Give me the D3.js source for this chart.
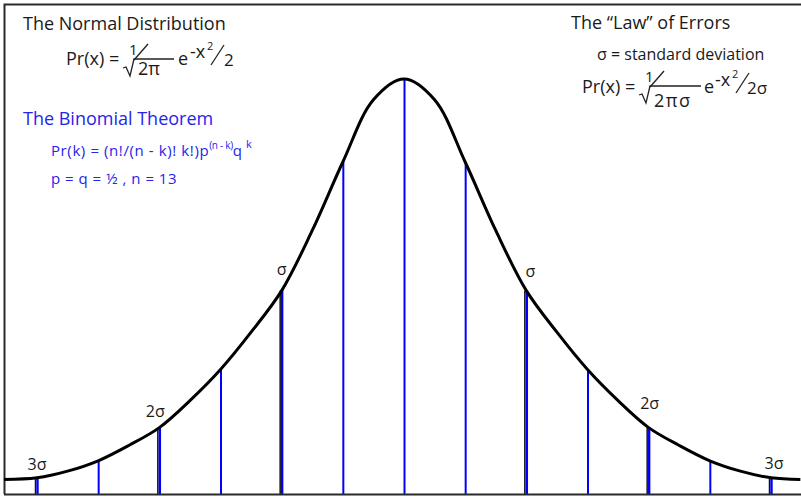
<!DOCTYPE html>
<html>
<head>
<meta charset="utf-8">
<script src="https://cdn.jsdelivr.net/npm/d3@7"></script>
<style>
  body { margin: 0; background: #fff; }
  svg { display: block; }
  text { font-family: "Open Sans", sans-serif; fill: #1a1a1a; }
</style>
</head>
<body>
<div id="chart"></div>
<script>
// binomial terms k = -6..6 (n = 13 centred), heights relative to the peak
const ks = [-6, -5, -4, -3, -2, -1, 0, 1, 2, 3, 4, 5, 6];
const heights = [0.039, 0.08, 0.16, 0.30, 0.49, 0.80, 1, 0.80, 0.49, 0.30, 0.16, 0.08, 0.039];
// the drawn bell curve, read at half steps (plus where it leaves the frame)
const curve_ks = [-6.54, -6, -5.5, -5, -4.5, -4, -3.5, -3, -2.5, -2, -1.5, -1, -0.5, 0,
                  0.5, 1, 1.5, 2, 2.5, 3, 3.5, 4, 4.5, 5, 5.5, 6, 6.48];
const curve_vals = [0.035, 0.039, 0.055, 0.08, 0.117, 0.16, 0.225, 0.30, 0.39, 0.49, 0.635, 0.80, 0.95, 1,
                    0.95, 0.80, 0.635, 0.49, 0.39, 0.30, 0.225, 0.16, 0.117, 0.08, 0.055, 0.039, 0.035];
// sigma marks
const sigma_ks = [-6, -4, -2, 2, 4, 6];
const sigma_names = ["3σ", "2σ", "σ", "σ", "2σ", "3σ"];

const W = 801, H = 497;
const base_y = 494;
// label nudges (dx, lift above the curve) for the sigma marks
const label_dx = [0, -4, 0, 4, 1, 3];
const label_lift = [8, 11, 16, 14, 19, 9];

const svg = d3.select("#chart").append("svg")
    .attr("width", W)
    .attr("height", H);

const x = d3.scaleLinear().domain([-6, 6]).range([37, 771]);
const y = d3.scaleLinear().domain([0, 1]).range([base_y, 79]);

// frame
svg.append("path")
    .attr("d", `M4.5,${base_y}V4.5H${W}`)
    .attr("fill", "none")
    .attr("stroke", "#2a2a2a")
    .attr("stroke-width", 2);

// vertical bars
const bars = ks.map((k, i) => ({k, v: heights[i]}));
svg.append("g")
  .selectAll("line")
  .data(bars.filter(d => sigma_ks.includes(d.k)))
  .join("line")
    .attr("x1", d => x(d.k) - 1.5)
    .attr("x2", d => x(d.k) - 1.5)
    .attr("y1", base_y)
    .attr("y2", d => y(d.v))
    .attr("stroke", "#111")
    .attr("stroke-width", 1.5);
svg.append("g")
  .selectAll("line")
  .data(bars)
  .join("line")
    .attr("x1", d => x(d.k) + 0.5)
    .attr("x2", d => x(d.k) + 0.5)
    .attr("y1", base_y)
    .attr("y2", d => y(d.v))
    .attr("stroke", "#0000ff")
    .attr("stroke-width", d => sigma_ks.includes(d.k) ? 2.4 : 2);

// the normal curve
const pts = curve_ks.map((k, i) => [k, curve_vals[i]]);
svg.append("path")
    .datum(pts)
    .attr("d", d3.line().x(d => x(d[0])).y(d => y(d[1])).curve(d3.curveCatmullRom.alpha(0.5)))
    .attr("fill", "none")
    .attr("stroke", "#000")
    .attr("stroke-width", 3);

// baseline
svg.append("line")
    .attr("x1", 4).attr("x2", W)
    .attr("y1", base_y + 0.5).attr("y2", base_y + 0.5)
    .attr("stroke", "#2a2a2a")
    .attr("stroke-width", 2);

// sigma labels
svg.append("g")
  .selectAll("text")
  .data(sigma_ks.map((k, i) => ({k, i, name: sigma_names[i], v: heights[ks.indexOf(k)]})))
  .join("text")
    .attr("x", d => x(d.k) + label_dx[d.i])
    .attr("y", d => y(d.v) - label_lift[d.i])
    .attr("text-anchor", "middle")
    .attr("font-size", 16)
    .text(d => d.name);

// helpers for the hand-set formulas
function txt(g, s, px, py, size, extra) {
  const t = g.append("text").attr("x", px).attr("y", py).attr("font-size", size).text(s);
  if (extra) extra(t);
  return t;
}
function stroke(g, d, w = 1.3) {
  g.append("path").attr("d", d).attr("fill", "none").attr("stroke", "#222").attr("stroke-width", w);
}

// left block: normal distribution
const left = svg.append("g");
txt(left, "The Normal Distribution", 23, 30, 18);
txt(left, "Pr(x) =", 66, 65, 18);
txt(left, "1", 129, 55, 15);
stroke(left, "M134,60L148,44");
stroke(left, "M123,68L126,67L130,76L134,59H174");
txt(left, "2π", 138, 75, 18);
txt(left, "e", 178, 65, 18);
txt(left, "-x", 190, 58, 18);
txt(left, "2", 207, 50, 11);
stroke(left, "M211,65L224,45");
txt(left, "2", 224, 66, 17);

// binomial block
const blue = "#2424ea";
const binom = svg.append("g");
txt(binom, "The Binomial Theorem", 23, 125, 18, t => t.style("fill", blue));
const pr = binom.append("text").attr("x", 51).attr("y", 156).attr("font-size", 15).style("fill", blue);
pr.append("tspan").attr("letter-spacing", 0.6).text("Pr(k) = (n!/(n - k)! k!)p");
pr.append("tspan").attr("dy", -7).attr("font-size", 10).attr("letter-spacing", -0.3).text("(n - k)");
pr.append("tspan").attr("dy", 7).attr("font-size", 15).text("q");
pr.append("tspan").attr("dy", -8).attr("dx", 4).attr("font-size", 11).text("k");
txt(binom, "p = q = ½ , n = 13", 51, 184, 15, t => t.style("fill", blue).attr("letter-spacing", 0.5));

// right block: law of errors
const right = svg.append("g");
txt(right, "The “Law” of Errors", 571, 29, 18);
txt(right, "σ = standard deviation", 597, 60, 16);
txt(right, "Pr(x) =", 582, 93, 18);
txt(right, "1", 645, 82, 15);
stroke(right, "M650,87L664,71");
stroke(right, "M639,95L642,94L646,103L650,86H701");
txt(right, "2πσ", 654, 107, 18, t => t.attr("letter-spacing", 1.5));
txt(right, "e", 704, 93, 18);
txt(right, "-x", 715, 86, 18);
txt(right, "2", 732, 78, 11);
stroke(right, "M736,93L749,73");
txt(right, "2σ", 747, 94, 17);
</script>
</body>
</html>
